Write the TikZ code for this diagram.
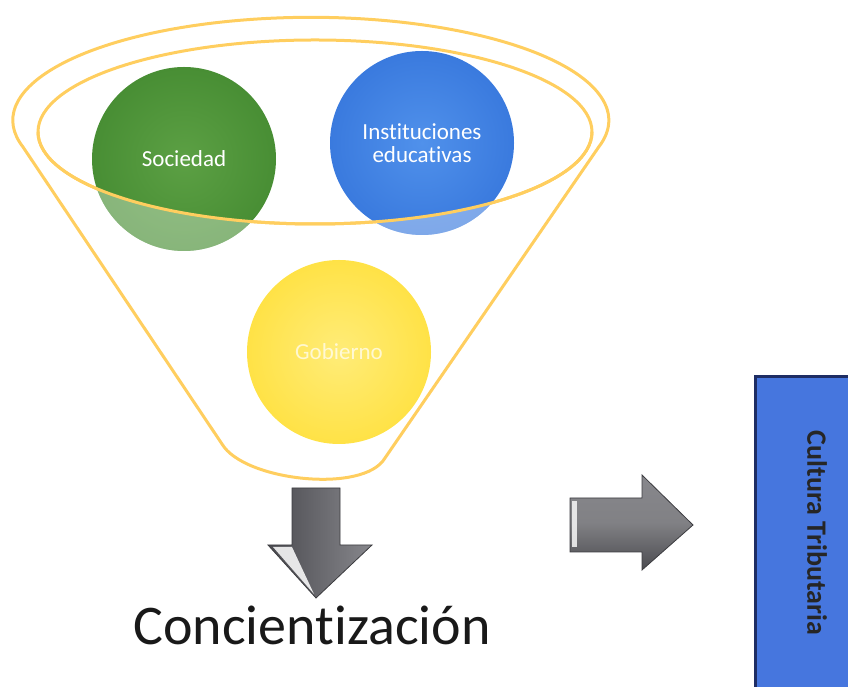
\documentclass[tikz,border=0pt]{standalone}
\usepackage{fontspec}
\setmainfont{Carlito}[Ligatures={NoCommon}]
\begin{document}
\begin{tikzpicture}[x=1pt,y=1pt]
\definecolor{funnel}{RGB}{255,206,95}
\definecolor{soc}{RGB}{72,142,52}
\definecolor{socin}{RGB}{92,160,68}
\definecolor{inst}{RGB}{58,122,222}
\definecolor{instin}{RGB}{80,145,235}
\definecolor{gob}{RGB}{255,226,70}
\definecolor{gobin}{RGB}{255,236,120}
\definecolor{boxblue}{RGB}{70,118,222}
\definecolor{boxedge}{RGB}{30,45,100}
\definecolor{arrdark}{RGB}{75,75,80}
\definecolor{arrlight}{RGB}{135,135,140}
\tikzset{
  funnelline/.style={draw=funnel, line width=3pt, line cap=round, line join=round},
  ball/.style={circle, minimum size=184pt, inner sep=0pt, text=white, font=\fontsize{23}{26}\selectfont, align=center},
  blockarrow/.style={draw=arrdark!80!black, line width=0.8pt, line join=miter}
}
\useasboundingbox (0,0) rectangle (848,687);
% outer funnel
\draw[funnelline] (23,540) arc[start angle=195,end angle=-15,x radius=298,y radius=103]
  -- (385,229) .. controls (364,193) and (244,206) .. (222,243) -- cycle;
% inner ellipse (back)
\draw[funnelline] (315,555) ellipse[x radius=277,y radius=92];
% circles
\node[ball, shading=radial, inner color=socin, outer color=soc] (s) at (184,528) {Sociedad};
\node[ball, shading=radial, inner color=instin, outer color=inst] (i) at (422,544) {Instituciones\\[-3pt]educativas};
\node[ball, shading=radial, inner color=gobin, outer color=gob, text=white, text opacity=0.7] (g) at (339,335) {Gobierno};
% front part of the funnel rim: lighten circles below inner ellipse
\begin{scope}
  \clip (184,528) circle[radius=92];
  \fill[white, opacity=0.35, even odd rule] (0,0) rectangle (848,687) (315,555) ellipse[x radius=277,y radius=92];
\end{scope}
\begin{scope}
  \clip (422,544) circle[radius=92];
  \fill[white, opacity=0.35, even odd rule] (0,0) rectangle (848,687) (315,555) ellipse[x radius=277,y radius=92];
\end{scope}
\draw[funnelline] (38,555) arc[start angle=180,end angle=360,x radius=277,y radius=92];
% down arrow
\shade[blockarrow, left color=arrdark, right color=arrlight]
  (292,199) -- (340,199) -- (340,142) -- (372,142) -- (316,89) -- (268,142) -- (292,142) -- cycle;
\fill[white, opacity=0.85] (273,140) -- (292,140) -- (314,93) -- cycle;
% right arrow
\shade[blockarrow, top color=arrlight, bottom color=arrdark, middle color=arrdark!70]
  (570,189) -- (642,189) -- (642,212) -- (693,162) -- (642,117) -- (642,135) -- (570,135) -- cycle;
\fill[white, opacity=0.8] (572,186) rectangle (577,140);
% label
\node[anchor=base, font=\fontsize{56}{60}\selectfont, text=black!90] (c) at (312,42) {Concientización};
% blue box
\node[anchor=south west, minimum width=93pt, minimum height=310pt, inner sep=0pt, fill=boxblue] (ct) at (755,0) {};
\draw[boxedge, line width=3pt] (ct.south west) -- (ct.north west) -- (ct.north east);
\node[rotate=-90, font=\bfseries\fontsize{28}{30}\selectfont, text=black!85] (ctl) at (817,154) {Cultura Tributaria};
\end{tikzpicture}
\end{document}
